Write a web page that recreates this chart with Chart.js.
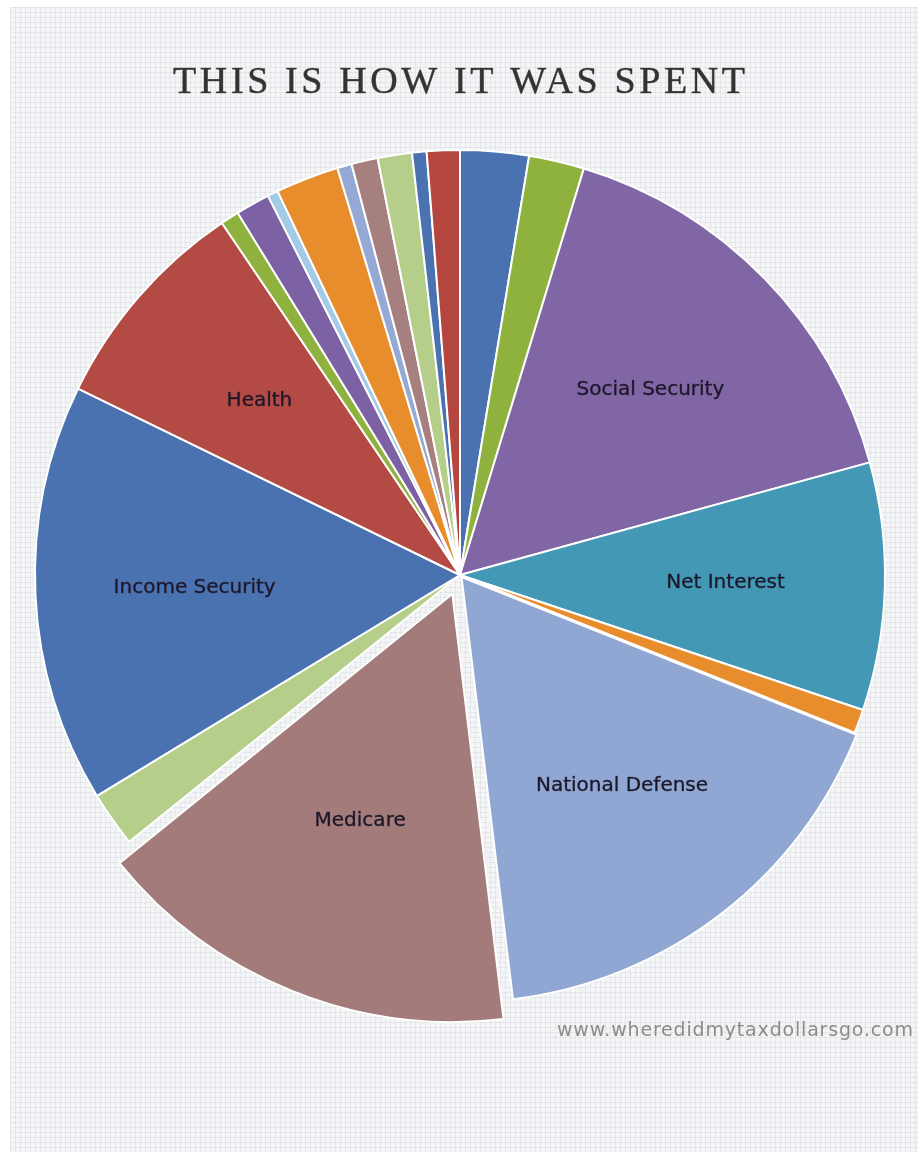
<!DOCTYPE html>
<html lang="en">
<head>
  <meta charset="UTF-8"/>
  <meta name="viewport" content="width=device-width, initial-scale=1.0"/>
  <title>This Is How It Was Spent</title>
  <script src="https://cdn.jsdelivr.net/npm/chart.js"></script>
  <style>
    html, body { margin: 0; padding: 0; background: #fff; }
    /* graph paper backdrop */
    .paper {
      position: absolute; left: 10px; top: 7px; width: 908px; height: 1145px;
      background-color: #f4f5f6;
      background-image:
        linear-gradient(to right, rgba(200,204,209,0.32) 1px, transparent 1px),
        linear-gradient(to bottom, rgba(200,204,209,0.32) 1px, transparent 1px);
      background-size: 5px 5px;
    }
    .wrap { position: absolute; left: 0; top: 0; width: 918px; height: 1153px; }
  </style>
</head>
<body>
  <div class="paper"></div>
  <div class="wrap"><canvas id="spentChart"></canvas></div>
  <script>
    // Spending shares, clockwise from 12 o'clock (percent)
    const categories = [
      '', '', 'Social Security', 'Net Interest', '', 'National Defense', 'Medicare', '',
      'Income Security', 'Health', '', '', '', '', '', '', '', '', ''
    ];
    const shares = [
      2.6, 2.1, 16.0, 9.4, 0.9, 17.0, 16.1, 2.1,
      15.9, 8.3, 0.7, 1.3, 0.4, 2.4, 0.55, 1.0, 1.3, 0.55, 1.25
    ];
    const titleText = 'THIS IS HOW IT WAS SPENT';
    const sourceText = 'www.wheredidmytaxdollarsgo.com';

    const sliceColors = [
      '#4a72b0', '#8fb23f', '#8066a4', '#4398b6', '#e88d2c', '#90a7d3', '#a37b7a', '#b5cf8b',
      '#4a72b0', '#b34a43', '#8fb23f', '#7d61a5', '#a3cbe6', '#e88d2c', '#94aad4', '#a6807e',
      '#b5cf8b', '#4a72b0', '#b5453f'
    ];
    // pulled-out wedges (National Defense a little, Medicare more)
    const sliceOffsets = shares.map((v, i) => i === 5 ? 10 : (i === 6 ? 82 : 0));

    // labels inside the named wedges
    const sliceLabels = {
      id: 'sliceLabels',
      afterDatasetsDraw(chart) {
        const ctx = chart.ctx;
        const arcs = chart.getDatasetMeta(0).data;
        ctx.save();
        ctx.font = '20px "DejaVu Sans"';
        ctx.fillStyle = '#1c1729';
        ctx.strokeStyle = 'rgba(28,23,41,0.6)';
        ctx.lineWidth = 0.5;
        ctx.textAlign = 'center';
        ctx.textBaseline = 'middle';
        arcs.forEach((arc, i) => {
          if (!categories[i]) return;
          const mid = (arc.startAngle + arc.endAngle) / 2;
          const r = arc.outerRadius * 0.625;
          const x = arc.x + Math.cos(mid) * r;
          const y = arc.y + Math.sin(mid) * r;
          ctx.fillText(categories[i], x, y);
          ctx.strokeText(categories[i], x, y);
        });
        ctx.restore();
      }
    };

    // heading and source line
    const captions = {
      id: 'captions',
      afterDraw(chart) {
        const ctx = chart.ctx;
        ctx.save();
        ctx.textAlign = 'left';
        ctx.textBaseline = 'alphabetic';

        ctx.font = '38px "Liberation Serif"';
        ctx.fillStyle = '#363232';
        ctx.strokeStyle = 'rgba(54,50,50,0.7)';
        ctx.lineWidth = 0.6;
        let w = ctx.measureText(titleText).width;
        ctx.letterSpacing = ((572 - w) / (titleText.length - 1)) + 'px';
        ctx.fillText(titleText, 173, 93);
        ctx.strokeText(titleText, 173, 93);

        ctx.letterSpacing = '0px';
        ctx.font = '19px "DejaVu Sans"';
        ctx.fillStyle = '#8c8c8c';
        w = ctx.measureText(sourceText).width;
        ctx.letterSpacing = ((356 - w) / (sourceText.length - 1)) + 'px';
        ctx.fillText(sourceText, 557, 1036);
        ctx.restore();
      }
    };

    new Chart(document.getElementById('spentChart'), {
      type: 'pie',
      data: {
        labels: categories,
        datasets: [{
          data: shares,
          backgroundColor: sliceColors,
          borderColor: '#ffffff',
          borderWidth: 2,
          offset: sliceOffsets
        }]
      },
      options: {
        responsive: true,
        maintainAspectRatio: false,
        animation: false,
        events: [],
        radius: 425,
        layout: { padding: { left: 2, right: 0, top: 100, bottom: 103 } },
        plugins: {
          legend: { display: false },
          tooltip: { enabled: false }
        }
      },
      plugins: [sliceLabels, captions]
    });
  </script>
</body>
</html>
